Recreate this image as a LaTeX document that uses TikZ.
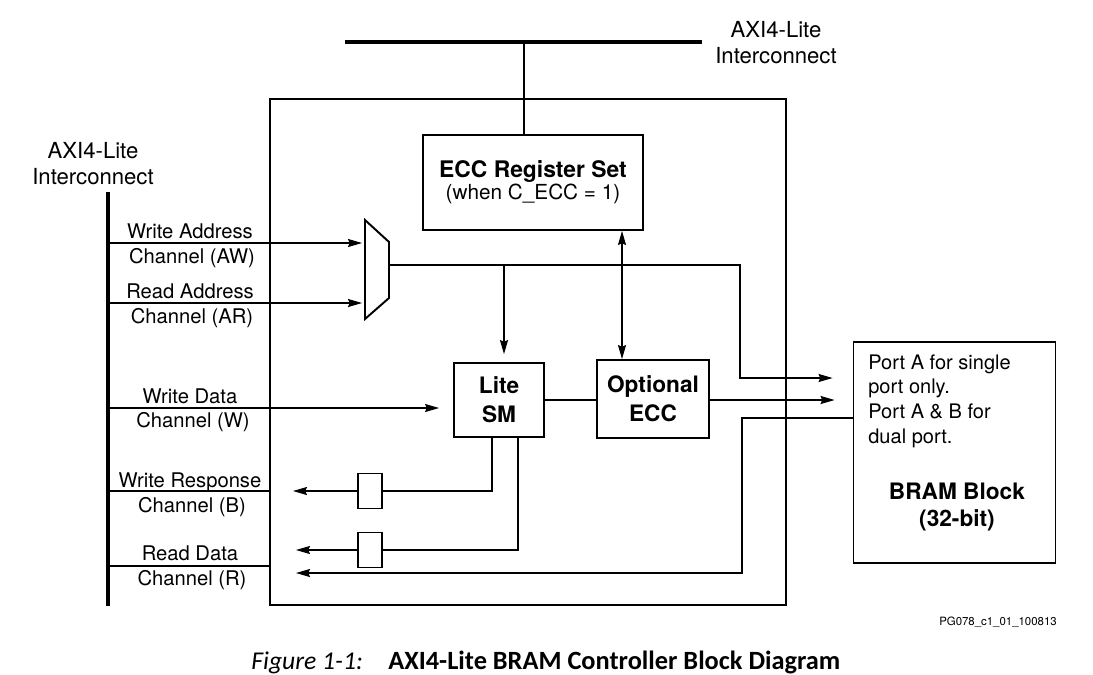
\documentclass[tikz,border=0pt]{standalone}
\usepackage{fontspec}
\setmainfont{TeX Gyre Heros}
\newfontfamily\capfont{Carlito}
\usetikzlibrary{arrows.meta}

\begin{document}
\begin{tikzpicture}[x=0.02cm,y=-0.02cm,
    sig/.style={line width=0.6pt},
    arr/.style={sig,-{Stealth[length=8pt,width=4.6pt,inset=1pt]}},
    darr/.style={sig,{Stealth[length=8pt,width=4.6pt,inset=1pt]}-{Stealth[length=8pt,width=4.6pt,inset=1pt]}},
    blk/.style={draw,line width=1.1pt,inner sep=0pt,align=center},
    bold/.style={font=\bfseries\fontsize{12.9}{#1}\selectfont},
    chan/.style={inner sep=0pt,font=\fontsize{11.5}{13}\selectfont},
    icx/.style={align=center,inner sep=0pt,font=\fontsize{12.6}{14.8}\selectfont}]
  \useasboundingbox (0,0) rectangle (1093,674);

  % interconnects
  \coordinate (tbusL) at (345,42);
  \coordinate (tbusR) at (702,42);
  \coordinate (tap) at (524,42);
  \coordinate (lbusT) at (108,192);
  \coordinate (lbusB) at (108,606);
  \draw[line width=2.2pt] (tbusL) -- (tbusR);
  \draw[line width=1.8pt] (lbusT) -- (lbusB);
  \node[icx] (tlbl) at (776,43) {AXI4-Lite\\Interconnect};
  \node[icx] (llbl) at (93,164) {AXI4-Lite\\Interconnect};

  % blocks
  \node[blk,minimum width=10.32cm,minimum height=10.12cm] (ctrl) at (528,352) {};
  \node[blk,minimum width=4.4cm,minimum height=1.9cm,font=\fontsize{11.8}{12.5}\selectfont] (eccreg) at (533,182.5)
    {{\bfseries\fontsize{13}{12.5}\selectfont ECC Register Set}\\(when C\_ECC = 1)};
  \node[blk,bold=16.4,minimum width=1.8cm,minimum height=1.48cm] (sm) at (499,400) {Lite\\SM};
  \node[blk,bold=16.4,minimum width=2.24cm,minimum height=1.56cm] (opt) at (653,399) {Optional\\ECC};
  \node[blk,minimum width=4.04cm,minimum height=4.42cm] (bram) at (954.5,452.5) {};
  \node[anchor=north west,align=left,inner sep=0pt,font=\fontsize{11.4}{14.2}\selectfont] (ports) at (868,354)
    {Port A for single\\port only.\\Port A \& B for\\dual port.};
  \node[bold=15.3,align=center,inner sep=0pt] (bramlbl) at (957,507) {BRAM Block\\(32-bit)};
  \node[blk,minimum width=0.48cm,minimum height=0.7cm] (regb) at (370,491) {};
  \node[blk,minimum width=0.48cm,minimum height=0.7cm] (regr) at (370,550) {};

  % mux
  \coordinate (mux1) at (365,220);
  \coordinate (mux2) at (389,242);
  \coordinate (mux3) at (389,298);
  \coordinate (mux4) at (365,319);
  \coordinate (muxo) at (389,265);
  \draw[line width=1.1pt] (mux1) -- (mux2) -- (mux3) -- (mux4) -- cycle;
  \draw[line width=1.1pt] (tap) -- (tap |- eccreg.north);

  % channels
  \coordinate (aw) at (108,243);
  \coordinate (ar) at (108,303);
  \coordinate (wd) at (108,408);
  \coordinate (bb) at (108,491);
  \coordinate (rr) at (108,566);
  \draw[arr,shorten >=0.06cm] (aw) -- (aw -| mux1);
  \draw[arr,shorten >=0.06cm] (ar) -- (ar -| mux1);
  \draw[arr,shorten >=0.28cm] (wd) -- (wd -| sm.west);
  \draw[sig] (bb) -- (bb -| ctrl.west);
  \draw[sig] (rr) -- (rr -| ctrl.west);
  \node[chan,anchor=base] (awt) at (190,238) {Write Address};
  \node[chan,anchor=base] (awb) at (192,263) {Channel (AW)};
  \node[chan,anchor=base] (art) at (190,298) {Read Address};
  \node[chan,anchor=base] (arb) at (192,323) {Channel (AR)};
  \node[chan,anchor=base] (wdt) at (190,403) {Write Data};
  \node[chan,anchor=base] (wdb) at (193,427) {Channel (W)};
  \node[chan,anchor=base] (bbt) at (190,487) {Write Response};
  \node[chan,anchor=base] (bbb) at (192,512) {Channel (B)};
  \node[chan,anchor=base] (rrt) at (190,560) {Read Data};
  \node[chan,anchor=base] (rrb) at (192,585) {Channel (R)};

  % internal paths
  \coordinate (turn1) at (740,378);
  \coordinate (rdturn) at (742,573);
  \coordinate (bend) at (293,491);
  \coordinate (rend1) at (296,550);
  \coordinate (rend2) at (296,573);
  \draw[arr,shorten >=0.4cm] (muxo) -| (turn1) -- (turn1 -| bram.west);
  \draw[arr,shorten >=0.16cm] ([xshift=0.1cm]sm.north |- muxo) -- ([xshift=0.1cm]sm.north);
  \draw[darr] ([xshift=-0.62cm]opt.north |- eccreg.south) -- ([xshift=-0.62cm]opt.north);
  \draw[sig] (sm.east) -- (sm.east -| opt.west);
  \draw[arr,shorten >=0.36cm] (sm.east -| opt.east) -- (sm.east -| bram.west);
  \draw[sig] ([xshift=-0.14cm]sm.south) |- (regb.east);
  \draw[arr] (regb.west) -- (bend);
  \draw[sig] ([xshift=0.38cm]sm.south) |- (regr.east);
  \draw[arr] (regr.west) -- (rend1);
  \draw[arr] ([yshift=0.69cm]bram.west) -| (rdturn) -- (rend2);

  % caption
  \node[inner sep=0pt,font=\fontsize{6.5}{7}\selectfont] (pgid) at (998,622) {PG078\_c1\_01\_100813};
  \node[anchor=base west,inner sep=0pt,font=\capfont\itshape\fontsize{14.6}{17}\selectfont] (figno) at (251,669) {Figure 1-1:};
  \node[anchor=base west,inner sep=0pt,font=\capfont\bfseries\fontsize{15}{17}\selectfont] (figttl) at (388,669) {AXI4-Lite BRAM Controller Block Diagram};
\end{tikzpicture}
\end{document}
